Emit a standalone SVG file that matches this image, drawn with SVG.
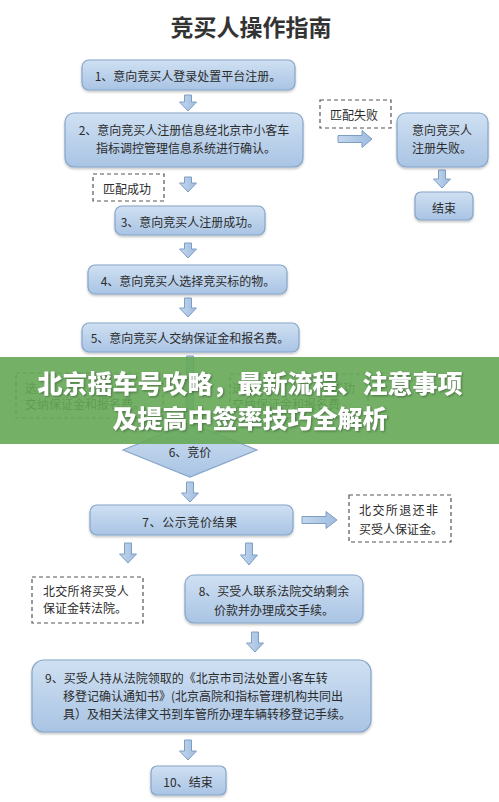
<svg xmlns="http://www.w3.org/2000/svg" width="499" height="802" viewBox="0 0 499 802">
<defs>
<linearGradient id="bf" x1="0" y1="0" x2="0" y2="1">
<stop offset="0" stop-color="#cfe0f2"/>
<stop offset="1" stop-color="#a9c4e4"/>
</linearGradient>
<linearGradient id="af" x1="0" y1="0" x2="1" y2="0">
<stop offset="0" stop-color="#c4d8ee"/>
<stop offset="1" stop-color="#9ebbdf"/>
</linearGradient>
<filter id="sh" x="-10%" y="-10%" width="120%" height="130%">
<feDropShadow dx="0" dy="1.5" stdDeviation="1.2" flood-color="#000" flood-opacity="0.25"/>
</filter>
</defs>
<style>
.box{fill:url(#bf);stroke:#86a5ca;stroke-width:1.2;filter:url(#sh)}
.dash{fill:#fff;stroke:#555;stroke-width:1.2;stroke-dasharray:4 3}
.arr{fill:url(#af);stroke:#7f9ec4;stroke-width:1}
.t{font-family:"Noto Sans CJK SC","Noto Sans",sans-serif;font-size:12px;fill:#2b2b2b;dominant-baseline:central}
.c{text-anchor:middle}
.title{font-family:"Noto Sans CJK SC",sans-serif;font-size:23px;font-weight:bold;fill:#333;text-anchor:middle}
.ban{font-family:"Noto Sans CJK SC",sans-serif;font-size:25px;font-weight:900;fill:#fff;text-anchor:middle}
</style>
<rect width="499" height="802" fill="#fff"/>
<text class="title" x="251" y="36">竞买人操作指南</text>

<g id="connectors">
<path class="arr" d="M184.5,95 h7 v7 h5 l-8.5,9 l-8.5,-9 h5 z"/>
<path class="arr" d="M338,135.5 h24 v-5 l10,8.5 l-10,8.5 v-5 h-24 z"/>
<path class="arr" d="M438.5,170 h7 v9 h5 l-8.5,9 l-8.5,-9 h5 z"/>
<path class="arr" d="M184.5,177 h7 v6 h5 l-8.5,9 l-8.5,-9 h5 z"/>
<path class="arr" d="M184.5,243 h7 v6 h5 l-8.5,9 l-8.5,-9 h5 z"/>
<path class="arr" d="M184.5,298 h7 v10 h5 l-8.5,9 l-8.5,-9 h5 z"/>
<path class="arr" d="M186.5,356 h7 v56 h5 l-8.5,10 l-8.5,-10 h5 z"/>
<path class="arr" d="M186.5,482 h7 v11 h5 l-8.5,9 l-8.5,-9 h5 z"/>
<path class="arr" d="M302,516.5 h24 v-5 l11,8.5 l-11,8.5 v-5 h-24 z"/>
<path class="arr" d="M124.5,543 h7 v11 h5 l-8.5,9 l-8.5,-9 h5 z"/>
<path class="arr" d="M245.5,543 h7 v12 h5 l-8.5,10 l-8.5,-10 h5 z"/>
<path class="arr" d="M251.5,632 h7 v11 h5 l-8.5,9 l-8.5,-9 h5 z"/>
<path class="arr" d="M184.5,740 h7 v11 h5 l-8.5,9 l-8.5,-9 h5 z"/>
</g>

<g id="n1"><rect class="box" x="82" y="60" width="213" height="30" rx="7"/><text class="t c" x="188" y="75">1、意向竞买人登录处置平台注册。</text></g>
<g id="n2"><rect class="box" x="65" y="113" width="238" height="54" rx="9"/><text class="t c" x="184" y="129">2、意向竞买人注册信息经北京市小客车</text><text class="t c" x="186" y="147">指标调控管理信息系统进行确认。</text></g>
<g id="fail"><rect class="dash" x="320" y="100" width="71" height="28"/><text class="t c" x="354" y="114">匹配失败</text></g>
<g id="n2f"><rect class="box" x="397" y="113" width="91" height="54" rx="9"/><text class="t" x="412" y="129">意向竞买人</text><text class="t" x="412" y="147">注册失败。</text></g>
<g id="end1"><rect class="box" x="415" y="192" width="58" height="28" rx="6"/><text class="t c" x="444" y="207">结束</text></g>
<g id="ok"><rect class="dash" x="93" y="174" width="71" height="27"/><text class="t c" x="127" y="188">匹配成功</text></g>
<g id="n3"><rect class="box" x="115" y="206" width="150" height="29" rx="7"/><text class="t c" x="190" y="221">3、意向竞买人注册成功。</text></g>
<g id="n4"><rect class="box" x="88" y="265" width="199" height="29" rx="7"/><text class="t c" x="188" y="280">4、意向竞买人选择竞买标的物。</text></g>
<g id="n5"><rect class="box" x="82" y="323" width="217" height="29" rx="7"/><text class="t c" x="190" y="337">5、意向竞买人交纳保证金和报名费。</text></g>
<g id="hid1"><rect class="dash" x="16" y="373" width="147" height="45"/><text class="t" x="25" y="387">选</text><text class="t" x="25" y="403">交纳保证金和报名费。</text></g>
<g id="hid2"><rect class="dash" x="230" y="374" width="138" height="44"/><text class="t" x="232" y="387">选</text><text class="t" x="331" y="387">成功</text><text class="t" x="232" y="403">交纳保证金和报名费。</text></g>
<g id="n6"><polygon points="190,423 257,450 190,477 123,450" fill="url(#bf)" stroke="#86a5ca" stroke-width="1.2"/><text class="t c" x="190" y="451">6、竞价</text></g>

<g id="banner"><rect x="0" y="357" width="499" height="87" fill="#65a856" opacity="0.9"/>
<text class="ban" x="250" y="393" style="filter:drop-shadow(1px 1px 1px rgba(0,0,0,0.35))">北京摇车号攻略，最新流程、注意事项</text>
<text class="ban" x="250" y="428" style="filter:drop-shadow(1px 1px 1px rgba(0,0,0,0.35))">及提高中签率技巧全解析</text></g>

<g id="n7"><rect class="box" x="90" y="505" width="203" height="30" rx="7"/><text class="t c" x="190" y="521" letter-spacing="0.6">7、公示竞价结果</text></g>
<g id="ret"><rect class="dash" x="349" y="495" width="102" height="47"/><text class="t" x="359" y="509" letter-spacing="1.4">北交所退还非</text><text class="t" x="359" y="528">买受人保证金。</text></g>
<g id="tr"><rect class="dash" x="32" y="577" width="111" height="46"/><text class="t" x="43" y="590" letter-spacing="0.3">北交所将买受人</text><text class="t" x="43" y="607">保证金转法院。</text></g>
<g id="n8"><rect class="box" x="185" y="575" width="178" height="48" rx="9"/><text class="t c" x="274" y="590">8、买受人联系法院交纳剩余</text><text class="t c" x="274" y="609">价款并办理成交手续。</text></g>
<g id="n9"><rect class="box" x="32" y="660" width="339" height="72" rx="12"/><text class="t" x="45" y="677">9、买受人持从法院领取的《北京市司法处置小客车转</text><text class="t" x="63" y="695">移登记确认通知书》(北京高院和指标管理机构共同出</text><text class="t" x="63" y="713">具）及相关法律文书到车管所办理车辆转移登记手续。</text></g>
<g id="n10"><rect class="box" x="151" y="766" width="75" height="29" rx="6"/><text class="t c" x="188" y="781">10、结束</text></g>
</svg>
